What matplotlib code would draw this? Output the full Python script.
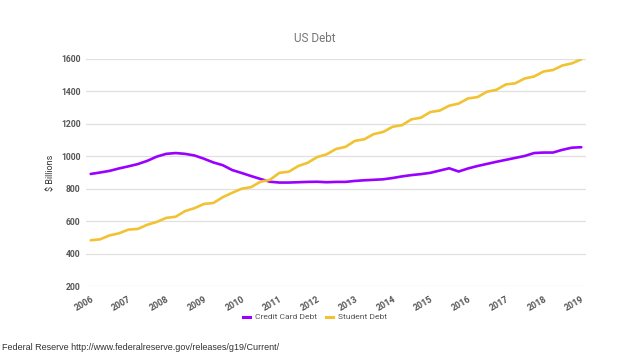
import numpy as np
import matplotlib
matplotlib.use("Agg")
import matplotlib.pyplot as plt
from matplotlib.lines import Line2D

# quarterly values, 2006 Q1 .. 2019 Q1
years = list(range(2006, 2020))
credit_card = [891, 900, 910, 925, 938, 952, 972, 998, 1015, 1020, 1015, 1005, 985,
               962, 945, 915, 897, 878, 860, 843, 838, 838, 840, 842, 843, 840, 842,
               842, 848, 852, 855, 858, 866, 876, 884, 890, 898, 912, 926, 906, 925,
               940, 953, 966, 978, 990, 1002, 1020, 1023, 1023, 1040, 1053, 1056]
student = [482, 488, 512, 525, 548, 552, 578, 595, 620, 627, 662, 680, 706, 712,
           748, 775, 800, 810, 843, 855, 898, 905, 940, 960, 995, 1012, 1045, 1058,
           1095, 1105, 1137, 1150, 1182, 1192, 1228, 1238, 1273, 1282, 1312, 1325,
           1357, 1365, 1398, 1410, 1443, 1450, 1480, 1492, 1523, 1532, 1560, 1573, 1598]

PURPLE = "#9900ff"
GOLD = "#f1c232"
plt.rcParams["font.family"] = ["Roboto", "DejaVu Sans"]

fig = plt.figure(figsize=(6.3, 3.54), dpi=100)
ax = fig.add_axes([86/630, 1-286/354, 500/630, 227/354])

x = np.arange(len(credit_card))
ax.plot(x, credit_card, color=PURPLE, lw=1.9, solid_capstyle="round")
ax.plot(x, student, color=GOLD, lw=1.9, solid_capstyle="round")

ax.set_xlim(-0.5, len(x) - 0.5)
ax.set_ylim(200, 1600)
ax.set_yticks(range(200, 1601, 200))
ax.set_xticks(np.arange(0, len(x), 4))
ax.set_xticklabels([str(y) for y in years], rotation=30, ha="right",
                   rotation_mode="anchor", fontsize=6.5, color="#555555", fontweight="bold")
for lab in ax.get_yticklabels():
    lab.set_fontsize(6.2)
    lab.set_color("#555555")
    lab.set_fontweight("bold")
ax.tick_params(length=0, pad=4)
ax.tick_params(axis="x", pad=6)
for s in ax.spines.values():
    s.set_visible(False)
ax.grid(axis="y", color="#e0e0e0", lw=0.9)
ax.set_axisbelow(True)
ax.set_ylabel("$ Billions", fontsize=6.5, color="#333333", labelpad=4)

fig.text(0.5, 1-38/354, "US Debt", ha="center", va="center", fontsize=8.5, color="#757575")

handles = [Line2D([], [], color=PURPLE, lw=2.2), Line2D([], [], color=GOLD, lw=2.2)]
fig.legend(handles, ["Credit Card Debt", "Student Debt"], loc="center",
           bbox_to_anchor=(0.5, 1-317/354), ncol=2, frameon=False, fontsize=6.1,
           handlelength=0.8, handletextpad=0.6, columnspacing=1.1, labelcolor="#555555")

fig.text(2/630, 1-347/354, "Federal Reserve http://www.federalreserve.gov/releases/g19/Current/",
         ha="left", va="center", fontsize=6.45, color="#333333", family=["Liberation Sans"])

fig.savefig("out.png", dpi=100, facecolor="white")
